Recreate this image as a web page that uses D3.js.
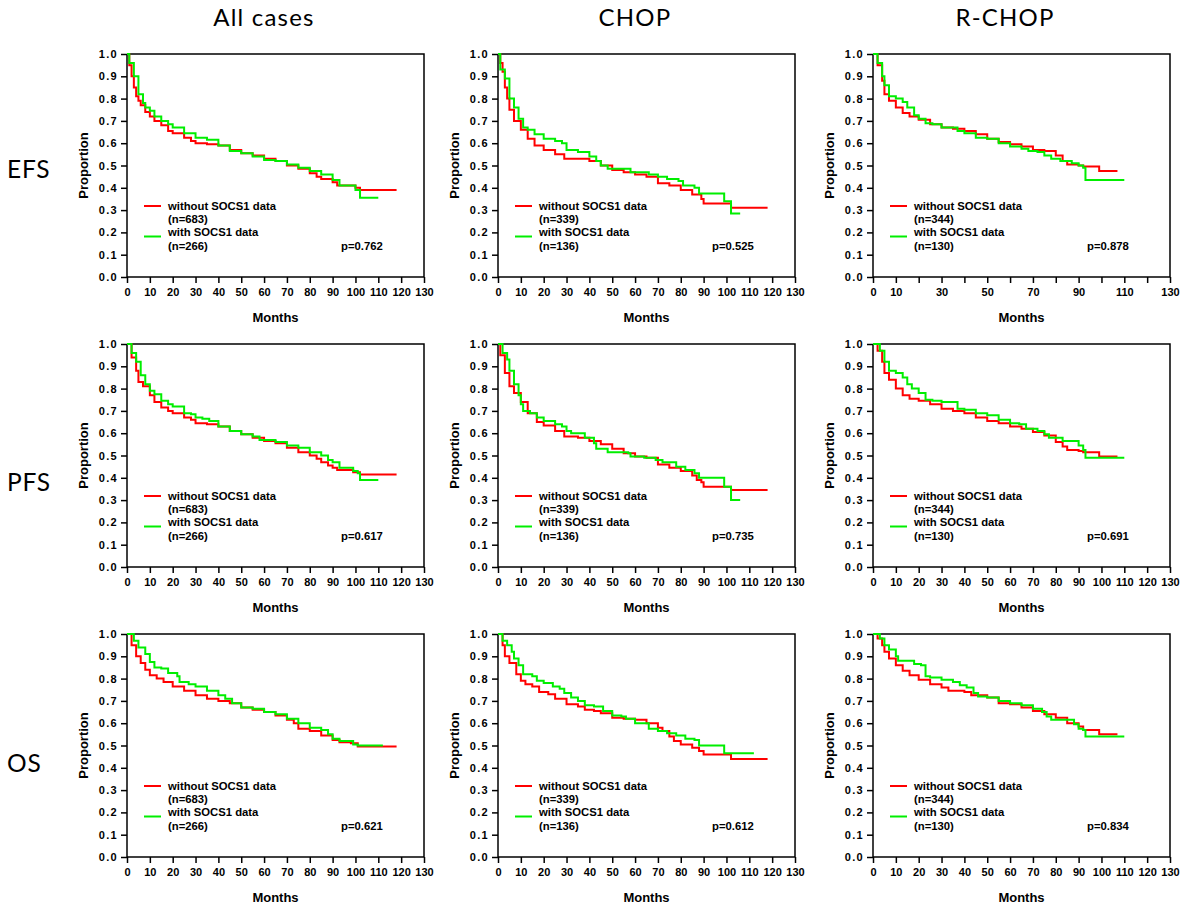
<!DOCTYPE html>
<html>
<head>
<meta charset="utf-8">
<script src="https://cdn.jsdelivr.net/npm/d3@7"></script>
<style>
  body { margin: 0; background: #fff; }
  .tick text { font-family: "Liberation Sans", Arial, sans-serif; font-weight: bold; font-size: 11px; fill: #000; }
  .yaxis .tick text { letter-spacing: 1.3px; }
  .axis path, .axis line { stroke: #000; stroke-width: 1.5px; }
</style>
</head>
<body>
<svg width="1183" height="908"></svg>
<script>
// column / row labels
const columns = ["All cases", "CHOP", "R-CHOP"];
const rows = ["EFS", "PFS", "OS"];
const seriesNames = ["without SOCS1 data", "with SOCS1 data"];
const nWithout = [683, 339, 344];
const nWith = [266, 136, 130];
const pValues = [
  ["0.762", "0.525", "0.878"],
  ["0.617", "0.735", "0.691"],
  ["0.621", "0.612", "0.834"]
];
const yTicks = [0, 0.1, 0.2, 0.3, 0.4, 0.5, 0.6, 0.7, 0.8, 0.9, 1.0];
const xTicks = [0, 10, 20, 30, 40, 50, 60, 70, 80, 90, 100, 110, 120, 130];
const xTicksSparse = [0, 10, 30, 50, 70, 90, 110, 130];

// [month, proportion]
const efsAllWithout = [[0,1],[1,0.95],[2,0.9],[3,0.85],[4,0.81],[5,0.79],[6,0.77],[8,0.74],[10,0.72],[12,0.7],[15,0.68],[18,0.655],[20,0.645],[25,0.625],[28,0.61],[30,0.6],[35,0.595],[40,0.59],[45,0.57],[50,0.555],[55,0.545],[60,0.53],[65,0.52],[70,0.5],[75,0.485],[80,0.465],[83,0.45],[85,0.44],[90,0.425],[92,0.41],[100,0.4],[102,0.39],[118,0.39]];
const efsAllWith = [[0,1],[1,0.96],[3,0.9],[5,0.82],[7,0.78],[8,0.76],[10,0.745],[12,0.72],[15,0.7],[18,0.685],[20,0.67],[25,0.645],[30,0.625],[35,0.615],[40,0.59],[45,0.565],[50,0.555],[55,0.54],[60,0.525],[65,0.52],[70,0.505],[75,0.49],[80,0.475],[85,0.46],[90,0.435],[93,0.41],[99,0.41],[100,0.39],[102,0.355],[110,0.355]];
const efsChopWithout = [[0,1],[1,0.96],[2,0.92],[3,0.85],[4,0.8],[5,0.75],[7,0.7],[10,0.66],[13,0.62],[16,0.59],[20,0.57],[25,0.55],[29,0.53],[35,0.53],[40,0.52],[45,0.5],[50,0.48],[55,0.47],[60,0.46],[65,0.45],[70,0.42],[75,0.41],[80,0.39],[85,0.37],[89,0.35],[90,0.33],[101,0.33],[102,0.31],[118,0.31]];
const efsChopWith = [[0,1],[1,0.93],[3,0.89],[5,0.8],[7,0.76],[9,0.71],[11,0.67],[13,0.66],[16,0.64],[20,0.62],[25,0.61],[28,0.6],[30,0.57],[35,0.56],[40,0.54],[43,0.52],[45,0.5],[48,0.485],[57,0.485],[58,0.47],[66,0.46],[70,0.45],[74,0.44],[79,0.43],[81,0.41],[86,0.4],[88,0.375],[98,0.375],[99,0.34],[101,0.34],[102,0.285],[106,0.285]];
const efsRchopWithout = [[0,1],[2,0.95],[4,0.88],[5,0.82],[7,0.79],[10,0.76],[13,0.735],[16,0.72],[20,0.705],[25,0.685],[30,0.67],[35,0.665],[40,0.655],[45,0.64],[50,0.62],[55,0.605],[60,0.595],[65,0.585],[70,0.57],[75,0.565],[80,0.545],[83,0.52],[85,0.505],[90,0.5],[92,0.495],[98,0.495],[99,0.475],[107,0.475]];
const efsRchopWith = [[0,1],[2,0.96],[4,0.9],[5,0.86],[7,0.81],[10,0.8],[13,0.785],[15,0.76],[18,0.725],[20,0.71],[23,0.69],[26,0.685],[30,0.67],[36,0.67],[37,0.655],[40,0.645],[45,0.625],[50,0.62],[55,0.6],[60,0.585],[65,0.575],[68,0.565],[72,0.56],[75,0.545],[78,0.53],[82,0.52],[87,0.51],[90,0.5],[92,0.49],[93,0.435],[110,0.435]];

const pfsAllWithout = [[0,1],[2,0.94],[4,0.88],[5,0.83],[7,0.81],[10,0.77],[12,0.74],[15,0.715],[18,0.7],[20,0.69],[25,0.67],[28,0.66],[30,0.645],[35,0.64],[40,0.63],[45,0.61],[50,0.595],[55,0.58],[60,0.565],[65,0.555],[70,0.535],[75,0.515],[80,0.5],[83,0.485],[85,0.47],[88,0.455],[90,0.445],[92,0.435],[98,0.435],[99,0.425],[102,0.415],[118,0.415]];
const pfsAllWith = [[0,1],[2,0.96],[4,0.92],[6,0.86],[8,0.82],[10,0.79],[12,0.775],[15,0.745],[18,0.73],[20,0.72],[25,0.69],[28,0.685],[30,0.67],[33,0.665],[36,0.655],[40,0.63],[45,0.61],[50,0.595],[55,0.585],[58,0.57],[65,0.56],[70,0.545],[75,0.535],[80,0.515],[85,0.5],[88,0.48],[90,0.47],[93,0.445],[99,0.43],[101,0.42],[102,0.39],[110,0.39]];
const pfsChopWithout = [[0,1],[1,0.95],[3,0.87],[5,0.81],[7,0.78],[10,0.74],[13,0.69],[17,0.65],[20,0.635],[25,0.61],[29,0.585],[35,0.58],[40,0.565],[45,0.55],[50,0.53],[55,0.51],[60,0.495],[65,0.49],[70,0.46],[75,0.445],[80,0.43],[85,0.41],[87,0.39],[89,0.38],[90,0.36],[101,0.36],[102,0.345],[118,0.345]];
const pfsChopWith = [[0,1],[2,0.96],[4,0.93],[5,0.88],[7,0.82],[9,0.77],[10,0.73],[11,0.7],[14,0.69],[17,0.67],[20,0.655],[25,0.64],[28,0.63],[30,0.61],[32,0.6],[38,0.58],[42,0.555],[43,0.53],[48,0.515],[57,0.51],[58,0.495],[63,0.495],[64,0.49],[69,0.48],[72,0.47],[78,0.45],[82,0.435],[86,0.42],[88,0.4],[98,0.4],[99,0.36],[101,0.36],[102,0.3],[106,0.3]];
const pfsRchopWithout = [[0,1],[2,0.97],[4,0.92],[5,0.87],[7,0.84],[10,0.8],[13,0.77],[16,0.755],[20,0.745],[25,0.73],[30,0.71],[35,0.7],[40,0.69],[45,0.67],[50,0.655],[55,0.645],[60,0.63],[65,0.62],[70,0.605],[75,0.59],[80,0.56],[83,0.54],[85,0.525],[90,0.52],[92,0.515],[98,0.515],[99,0.495],[107,0.495]];
const pfsRchopWith = [[0,1],[3,0.97],[5,0.92],[7,0.88],[10,0.87],[13,0.85],[15,0.82],[17,0.8],[20,0.78],[23,0.75],[26,0.745],[30,0.74],[35,0.74],[37,0.71],[40,0.705],[45,0.69],[50,0.68],[55,0.66],[60,0.645],[64,0.64],[67,0.62],[72,0.61],[75,0.595],[77,0.58],[82,0.58],[83,0.565],[88,0.565],[90,0.545],[92,0.525],[93,0.49],[110,0.49]];

const osAllWithout = [[0,1],[2,0.95],[4,0.9],[6,0.87],[8,0.84],[10,0.815],[13,0.8],[16,0.785],[20,0.765],[25,0.745],[30,0.725],[35,0.71],[40,0.7],[45,0.69],[50,0.67],[55,0.66],[60,0.65],[65,0.635],[70,0.615],[73,0.6],[75,0.575],[80,0.565],[85,0.545],[90,0.525],[93,0.515],[98,0.51],[101,0.495],[118,0.495]];
const osAllWith = [[0,1],[3,0.97],[5,0.94],[8,0.91],[10,0.875],[12,0.85],[15,0.845],[18,0.825],[22,0.81],[23,0.785],[27,0.775],[30,0.765],[35,0.745],[40,0.725],[43,0.71],[46,0.69],[50,0.67],[55,0.665],[60,0.65],[65,0.64],[70,0.62],[75,0.6],[80,0.58],[85,0.57],[88,0.55],[90,0.53],[93,0.52],[98,0.52],[99,0.505],[101,0.5],[112,0.5]];
const osChopWithout = [[0,1],[2,0.95],[3,0.9],[5,0.87],[8,0.82],[10,0.79],[12,0.775],[15,0.765],[18,0.74],[22,0.73],[25,0.71],[30,0.685],[35,0.675],[38,0.66],[42,0.655],[45,0.645],[50,0.625],[55,0.62],[60,0.615],[65,0.6],[70,0.58],[72,0.565],[75,0.54],[77,0.52],[80,0.505],[85,0.49],[88,0.475],[90,0.46],[101,0.46],[102,0.44],[118,0.44]];
const osChopWith = [[0,1],[2,0.97],[4,0.95],[6,0.92],[7,0.89],[9,0.86],[11,0.82],[15,0.81],[17,0.79],[20,0.78],[24,0.765],[27,0.755],[29,0.735],[32,0.715],[35,0.7],[38,0.68],[42,0.675],[46,0.655],[50,0.635],[54,0.63],[56,0.62],[60,0.6],[64,0.6],[66,0.575],[70,0.565],[74,0.555],[78,0.545],[82,0.53],[86,0.525],[88,0.5],[98,0.5],[99,0.465],[112,0.465]];
const osRchopWithout = [[0,1],[2,0.98],[4,0.95],[5,0.92],[7,0.89],[10,0.86],[13,0.835],[16,0.815],[20,0.795],[25,0.775],[30,0.76],[33,0.745],[40,0.74],[43,0.725],[50,0.715],[55,0.69],[60,0.685],[65,0.67],[70,0.655],[75,0.64],[80,0.625],[85,0.6],[90,0.585],[92,0.57],[98,0.57],[99,0.55],[107,0.55]];
const osRchopWith = [[0,1],[3,0.98],[5,0.95],[7,0.93],[10,0.9],[11,0.88],[16,0.88],[18,0.865],[21,0.86],[23,0.81],[25,0.805],[30,0.795],[35,0.785],[38,0.77],[41,0.76],[44,0.735],[46,0.72],[50,0.715],[55,0.7],[60,0.69],[65,0.68],[70,0.665],[74,0.65],[76,0.63],[78,0.615],[87,0.615],[88,0.595],[90,0.575],[92,0.57],[93,0.54],[110,0.54]];

const curves = [
  [[efsAllWithout, efsAllWith], [efsChopWithout, efsChopWith], [efsRchopWithout, efsRchopWith]],
  [[pfsAllWithout, pfsAllWith], [pfsChopWithout, pfsChopWith], [pfsRchopWithout, pfsRchopWith]],
  [[osAllWithout, osAllWith], [osChopWithout, osChopWith], [osRchopWithout, osRchopWith]]
];

const colors = ["#ff0000", "#00ee00"];
const font = '"Liberation Sans", Arial, sans-serif';
const titleFont = 'Lato, "Open Sans", sans-serif';

// panel layout
const colLeft = [127, 498, 873];
const rowTop = [54, 344, 634];
const w = 297, h = 223;
const colTitleX = [264, 635, 1005];
const rowLabelY = [178, 491, 772];

const svg = d3.select("svg");

svg.selectAll(".col-title")
  .data(columns)
  .enter().append("text")
  .attr("class", "col-title")
  .attr("x", (d, i) => colTitleX[i])
  .attr("y", 25.5)
  .attr("text-anchor", "middle")
  .style("font-family", titleFont)
  .style("font-size", "24px")
  .style("letter-spacing", "1.2px")
  .text(d => d);

svg.selectAll(".row-label")
  .data(rows)
  .enter().append("text")
  .attr("class", "row-label")
  .attr("x", 7)
  .attr("y", (d, i) => rowLabelY[i])
  .style("font-family", titleFont)
  .style("font-size", "24.5px")
  .style("letter-spacing", "0.8px")
  .text(d => d);

const x = d3.scaleLinear().domain([0, 130]).range([0, w]);
const y = d3.scaleLinear().domain([0, 1]).range([h, 0]);

const line = d3.line()
  .x(d => x(d[0]))
  .y(d => y(d[1]))
  .curve(d3.curveStepAfter);

rows.forEach((rowName, r) => {
  columns.forEach((colName, c) => {
    const g = svg.append("g")
      .attr("transform", `translate(${colLeft[c]},${rowTop[r]})`);

    // box top + right
    g.append("path")
      .attr("d", `M0,0H${w}V${h}`)
      .attr("fill", "none")
      .attr("stroke", "#000")
      .attr("stroke-width", 1.5);

    const labelled = (r === 0 && c === 2) ? xTicksSparse : xTicks;
    g.append("g")
      .attr("class", "axis")
      .attr("transform", `translate(0,${h})`)
      .call(d3.axisBottom(x).tickValues(xTicks).tickSize(6).tickPadding(5)
        .tickFormat(d => labelled.includes(d) ? d : ""))
      .call(a => a.select(".domain").attr("d", `M0,0H${w}`));

    g.append("g")
      .attr("class", "axis yaxis")
      .call(d3.axisLeft(y).tickValues(yTicks).tickSize(6).tickPadding(3)
        .tickFormat(d3.format(".1f")))
      .call(a => a.select(".domain").attr("d", `M0,0V${h}`));

    g.append("text")
      .attr("x", w / 2)
      .attr("y", h + 45)
      .attr("text-anchor", "middle")
      .style("font-family", font)
      .style("font-weight", "bold")
      .style("font-size", "13px")
      .text("Months");

    g.append("text")
      .attr("transform", `translate(-39,${h / 2}) rotate(-90)`)
      .attr("text-anchor", "middle")
      .style("font-family", font)
      .style("font-weight", "bold")
      .style("font-size", "13px")
      .text("Proportion");

    // survival curves, red drawn first
    g.selectAll(".km")
      .data(curves[r][c])
      .enter().append("path")
      .attr("class", "km")
      .attr("d", line)
      .attr("fill", "none")
      .attr("stroke", (d, i) => colors[i])
      .attr("stroke-width", 2);

    // legend
    const lg = g.append("g").style("font-family", font).style("font-weight", "bold").style("font-size", "11.3px");
    const legendRows = [
      { label: seriesNames[0], n: nWithout[c], ly: 152, color: colors[0] },
      { label: seriesNames[1], n: nWith[c], ly: 182.5, color: colors[1] }
    ];
    legendRows.forEach((d, i) => {
      lg.append("line")
        .attr("x1", 17).attr("x2", 34)
        .attr("y1", d.ly).attr("y2", d.ly)
        .attr("stroke", d.color)
        .attr("stroke-width", 2);
      const ty = 155.8 + i * 26.6;
      lg.append("text").attr("x", 41).attr("y", ty).text(d.label);
      lg.append("text").attr("x", 41).attr("y", ty + 13.3).text(`(n=${d.n})`);
    });
    lg.append("text")
      .attr("x", 214)
      .attr("y", 195.7)
      .text(`p=${pValues[r][c]}`);
  });
});
</script>
</body>
</html>
